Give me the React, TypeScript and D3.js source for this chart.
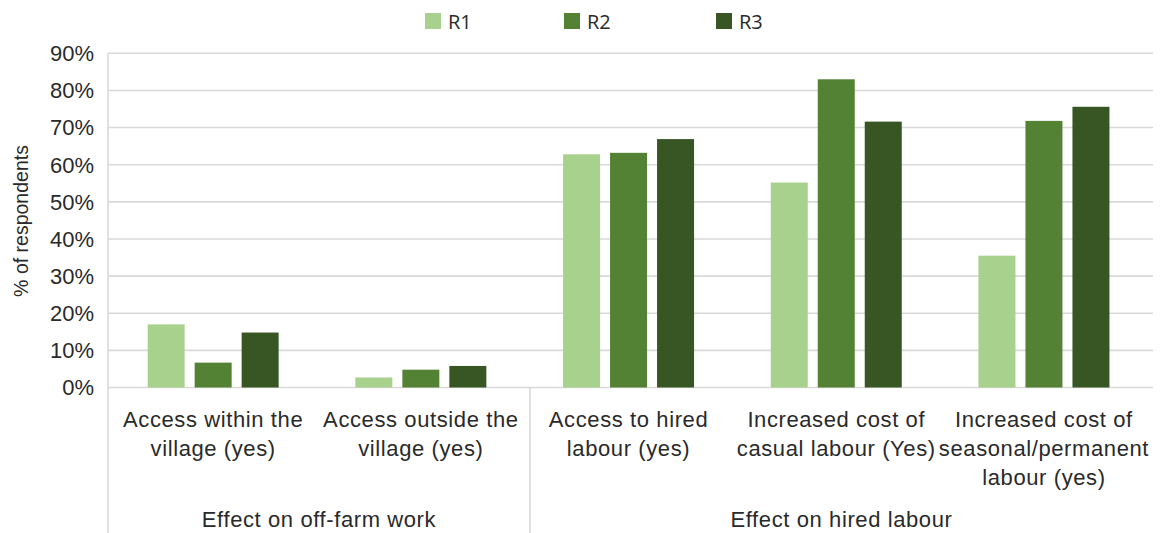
import React from "react";
import * as d3 from "d3";

const categories = [
  "Access within the village (yes)",
  "Access outside the village (yes)",
  "Access to hired labour (yes)",
  "Increased cost of casual labour (Yes)",
  "Increased cost of seasonal/permanent labour (yes)",
];
const categoryLines = [
  ["Access within the", "village (yes)"],
  ["Access outside the", "village (yes)"],
  ["Access to hired", "labour (yes)"],
  ["Increased cost of", "casual labour (Yes)"],
  ["Increased cost of", "seasonal/permanent", "labour (yes)"],
];
const groups = ["Effect on off-farm work", "Effect on hired labour"];
const groupSizes = [2, 3];
const seriesNames = ["R1", "R2", "R3"];
const R1 = [17.0, 2.7, 62.8, 55.2, 35.5];
const R2 = [6.7, 4.8, 63.2, 83.0, 71.8];
const R3 = [14.8, 5.8, 66.9, 71.6, 75.6];
const yTicks = [0, 10, 20, 30, 40, 50, 60, 70, 80, 90];
const colors = ["#a9d18e", "#548235", "#375623"];

const W = 1161;
const H = 533;
const plotLeft = 108;
const plotRight = 1153;
const y0 = 387.5;
const yTop = 53.3;

export default function App() {
  const values = [R1, R2, R3];
  const y = d3.scaleLinear().domain([0, 90]).range([y0, yTop]);
  const x = d3.scaleBand<string>().domain(categories).range([109.3, 1147.8]).padding(0);
  const inner = d3.scaleBand<string>().domain(seriesNames).range([-65.5, 65.5]).paddingInner(10 / 47);

  const bounds: number[] = [plotLeft];
  groupSizes.forEach((n, gi) => {
    if (gi < groupSizes.length - 1) bounds.push(530);
  });
  bounds.push(plotRight);

  const font = "'Liberation Sans', Arial, sans-serif";
  const textColor = "#2a2a2a";
  const legendX = [425, 564, 716];

  return (
    <svg width={W} height={H} style={{ position: "absolute", left: 0, top: 0 }}>
      <rect width={W} height={H} fill="#ffffff" />
      {yTicks.map((t) => (
        <line key={t} x1={plotLeft} x2={plotRight} y1={y(t)} y2={y(t)} stroke="#d9d9d9" strokeWidth={1.6} />
      ))}
      <line x1={plotLeft} x2={plotLeft} y1={yTop} y2={H} stroke="#d9d9d9" strokeWidth={1.6} />
      {bounds.slice(1, -1).map((b, i) => (
        <line key={i} x1={b} x2={b} y1={y0} y2={H} stroke="#d9d9d9" strokeWidth={1.6} />
      ))}
      {categories.map((c, ci) =>
        seriesNames.map((s, si) => {
          const cx = (x(c) as number) + x.bandwidth() / 2;
          const v = values[si][ci];
          return (
            <rect
              key={c + s}
              x={cx + (inner(s) as number)}
              y={y(v)}
              width={inner.bandwidth()}
              height={y0 - y(v)}
              fill={colors[si]}
            />
          );
        })
      )}
      {yTicks.map((t) => (
        <text key={t} x={94} y={y(t)} dy="0.36em" textAnchor="end" fontFamily={font} fontSize={22} fill={textColor}>
          {t}%
        </text>
      ))}
      <text transform={`translate(28,221) rotate(-90)`} textAnchor="middle" fontFamily={font} fontSize={19.5} fill={textColor}>
        % of respondents
      </text>
      {categories.map((c, ci) => {
        const cx = (x(c) as number) + x.bandwidth() / 2;
        return (
          <text key={c} textAnchor="middle" fontFamily={font} fontSize={22} letterSpacing={0.6} fill={textColor}>
            {categoryLines[ci].map((ln, li) => (
              <tspan key={li} x={cx} y={427 + li * 29}>
                {ln}
              </tspan>
            ))}
          </text>
        );
      })}
      {groups.map((g, gi) => (
        <text
          key={g}
          x={(bounds[gi] + bounds[gi + 1]) / 2}
          y={527}
          textAnchor="middle"
          fontFamily={font}
          fontSize={22}
          letterSpacing={0.6}
          fill={textColor}
        >
          {g}
        </text>
      ))}
      {seriesNames.map((s, si) => (
        <g key={s}>
          <rect x={legendX[si]} y={13} width={16} height={16} fill={colors[si]} />
          <text x={legendX[si] + 23} y={29} fontFamily="'Open Sans', sans-serif" fontSize={20} fill={textColor}>
            {s}
          </text>
        </g>
      ))}
    </svg>
  );
}
